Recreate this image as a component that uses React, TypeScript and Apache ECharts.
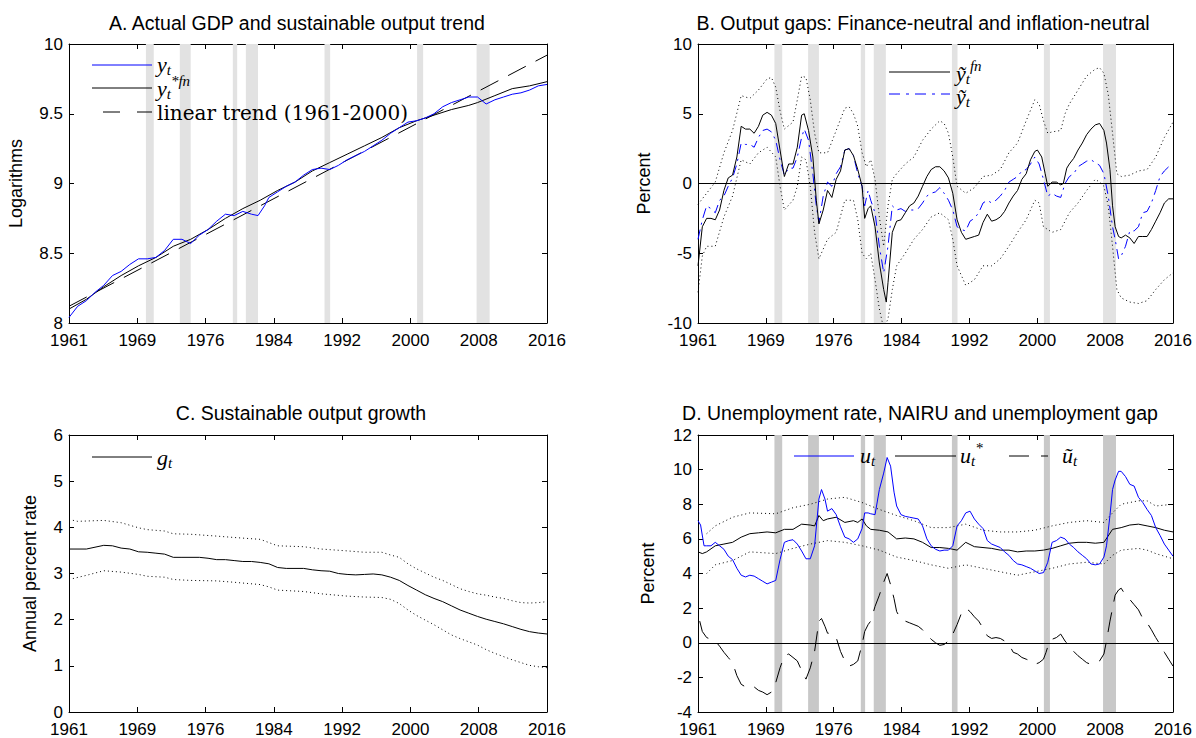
import React, { useEffect, useRef } from "react";
import * as echarts from "echarts";

// ---------- Axis tick labels and recession bands ----------
const xTickLabels = ["1961", "1969", "1976", "1984", "1992", "2000", "2008", "2016"];
const recessions: [number, number][] = [
  [1969.85, 1970.75], [1973.75, 1975.0], [1979.85, 1980.35], [1981.35, 1982.75],
  [1990.4, 1991.05], [2001.05, 2001.75], [2007.9, 2009.4],
];

// ---------- Panel A ----------
const gdpActual: [number, number][] = [
  [1961, 8.04], [1962, 8.12], [1963, 8.16], [1964, 8.22], [1965, 8.27], [1966, 8.34], [1967, 8.37],
  [1968, 8.42], [1969, 8.46], [1970, 8.46], [1971, 8.47], [1972, 8.52], [1973, 8.60], [1974, 8.60],
  [1975, 8.57], [1976, 8.63], [1977, 8.67], [1978, 8.73], [1979, 8.78], [1980, 8.77], [1981, 8.80],
  [1982, 8.78], [1982.75, 8.77], [1983.5, 8.84], [1984, 8.90], [1985, 8.94], [1986, 8.98], [1987, 9.01],
  [1988, 9.06], [1989, 9.10], [1990, 9.11], [1991, 9.10], [1992, 9.13], [1993, 9.17], [1994, 9.20],
  [1995, 9.23], [1996, 9.27], [1997, 9.31], [1998, 9.36], [1999, 9.40], [2000, 9.44], [2001, 9.45],
  [2002, 9.47], [2003, 9.50], [2004, 9.55], [2005, 9.58], [2006, 9.60], [2007, 9.62], [2008, 9.62],
  [2009, 9.57], [2010, 9.60], [2011, 9.62], [2012, 9.64], [2013, 9.65], [2014, 9.67], [2015, 9.70],
  [2016, 9.71],
];
const gdpTrendFn: [number, number][] = [
  [1961, 8.10], [1963, 8.17], [1965, 8.26], [1967, 8.34], [1969, 8.41], [1971, 8.47], [1973, 8.55],
  [1975, 8.60], [1977, 8.67], [1979, 8.75], [1981, 8.82], [1983, 8.88], [1985, 8.95], [1987, 9.01],
  [1989, 9.09], [1991, 9.15], [1993, 9.21], [1995, 9.27], [1997, 9.33], [1999, 9.40], [2001, 9.45],
  [2003, 9.49], [2005, 9.53], [2007, 9.56], [2008, 9.58], [2010, 9.63], [2012, 9.68], [2014, 9.70],
  [2016, 9.73],
];
const linearTrend: [number, number][] = [[1961, 8.12], [2016, 9.92]];

// ---------- Panel B ----------
const gapFn: [number, number][] = [
  [1961, -5.9], [1961.5, -3.1], [1962, -2.5], [1962.5, -2.5], [1963, -2.6], [1963.5, -1.9], [1964, -0.5],
  [1964.5, 0.4], [1965, 0.6], [1965.5, 1.9], [1966, 4.1], [1966.5, 3.9], [1967, 3.9], [1967.5, 3.6],
  [1968, 4.1], [1968.5, 4.9], [1969, 5.1], [1969.5, 4.9], [1970, 4.3], [1970.5, 2.4], [1971, 0.5],
  [1971.5, 1.4], [1972, 1.4], [1972.5, 2.6], [1973, 4.9], [1973.3, 5.0], [1973.8, 3.8], [1974.3, 1.9],
  [1974.7, -1.2], [1975, -2.9], [1975.5, -1.9], [1976, -0.5], [1976.5, -1.0], [1977, 0.3], [1977.5, 0.9],
  [1978, 2.4], [1978.5, 2.5], [1979, 2.0], [1979.5, 1.0], [1980, -0.2], [1980.3, -2.5], [1980.7, -1.8],
  [1981, -1.6], [1981.5, -3.1], [1982, -5.7], [1982.5, -7.6], [1982.8, -8.5], [1983, -7.1], [1983.5, -3.5],
  [1984, -2.7], [1984.5, -2.6], [1985, -2.1], [1985.5, -1.6], [1986, -1.4], [1986.5, -0.9], [1987, -0.2],
  [1987.5, 0.5], [1988, 1.0], [1988.5, 1.2], [1989, 1.2], [1989.5, 0.9], [1990, 0.4], [1990.5, -0.7],
  [1991, -2.6], [1991.5, -3.5], [1992, -4.0], [1992.5, -3.9], [1993, -3.8], [1993.5, -3.7], [1994, -2.8],
  [1994.5, -2.2], [1995, -2.7], [1995.5, -2.6], [1996, -2.4], [1996.5, -2.0], [1997, -1.4], [1997.5, -0.9],
  [1998, -0.5], [1998.5, 0.3], [1999, 0.7], [1999.5, 1.7], [2000, 2.3], [2000.3, 2.4], [2000.8, 1.9],
  [2001.2, 0.7], [2001.5, -0.2], [2002, 0.1], [2002.5, 0.1], [2003, -0.1], [2003.3, 0.0], [2003.7, 1.1],
  [2004, 1.4], [2004.5, 1.8], [2005, 2.4], [2005.5, 2.9], [2006, 3.5], [2006.5, 3.9], [2007, 4.2],
  [2007.5, 4.3], [2008, 3.8], [2008.3, 2.9], [2008.7, 1.0], [2009, -1.6], [2009.3, -3.1], [2009.7, -3.8],
  [2010, -3.9], [2010.5, -3.7], [2011, -3.9], [2011.5, -4.3], [2012, -3.8], [2012.5, -3.8], [2013, -3.8],
  [2013.5, -3.3], [2014, -2.7], [2014.5, -2.1], [2015, -1.4], [2015.5, -1.1], [2016, -1.1],
];
const gapInfl: [number, number][] = [
  [1961, -4.0], [1961.5, -2.6], [1962, -1.6], [1962.5, -1.8], [1963, -2.1], [1963.5, -1.2], [1964, -0.9],
  [1964.5, -0.2], [1965, 0.4], [1965.5, 1.4], [1966, 2.9], [1966.5, 2.8], [1967, 2.8], [1967.5, 2.6],
  [1968, 3.3], [1968.5, 3.8], [1969, 3.9], [1969.5, 3.7], [1970, 3.1], [1970.5, 1.7], [1971, 0.6],
  [1971.5, 1.1], [1972, 1.1], [1972.5, 1.9], [1973, 3.3], [1973.3, 3.9], [1973.8, 3.1], [1974.3, 0.7],
  [1974.7, -1.6], [1975, -2.8], [1975.5, -0.9], [1976, 0.1], [1976.5, -0.2], [1977, 0.7], [1977.5, 1.2],
  [1978, 2.4], [1978.5, 2.5], [1979, 2.0], [1979.5, 0.7], [1980, -0.2], [1980.3, -1.6], [1980.7, -0.5],
  [1981, -1.2], [1981.5, -2.1], [1982, -4.5], [1982.5, -6.4], [1983, -4.5], [1983.5, -1.6], [1984, -1.9],
  [1984.5, -1.8], [1985, -2.0], [1985.5, -1.9], [1986, -1.9], [1986.5, -1.8], [1987, -1.4], [1987.5, -0.9],
  [1988, -0.7], [1988.5, -0.6], [1989, -0.3], [1989.5, -0.7], [1990, -1.2], [1990.5, -1.9], [1991, -3.1],
  [1991.5, -3.3], [1992, -3.4], [1992.5, -2.7], [1993, -2.5], [1993.5, -2.1], [1994, -1.4], [1994.5, -1.2],
  [1995, -1.4], [1995.5, -1.2], [1996, -0.9], [1996.5, -0.5], [1997, 0.1], [1997.5, 0.3], [1998, 0.5],
  [1998.5, 0.9], [1999, 1.0], [1999.5, 1.4], [2000, 1.9], [2000.5, 1.4], [2001, 0.3], [2001.5, -0.9],
  [2002, -0.7], [2002.5, -0.9], [2003, -1.0], [2003.5, 0.0], [2004, 0.5], [2004.5, 0.7], [2005, 1.2],
  [2005.5, 1.4], [2006, 1.6], [2006.5, 1.7], [2007, 1.5], [2007.5, 1.3], [2008, 0.7], [2008.5, -0.9],
  [2009, -3.1], [2009.3, -4.0], [2009.7, -5.4], [2010, -5.2], [2010.5, -4.5], [2011, -3.4], [2011.5, -3.4],
  [2012, -3.1], [2012.5, -2.1], [2013, -2.0], [2013.5, -1.4], [2014, -0.5], [2014.5, 0.5], [2015, 0.9],
  [2015.5, 1.2], [2016, 1.3],
];
const gapFnUpper: [number, number][] = [
  [1961, -1.5], [1962, -0.7], [1963, 0.1], [1964, 2.2], [1965, 3.8], [1966, 6.3], [1967, 6.1], [1968, 6.7],
  [1969, 7.5], [1969.5, 7.6], [1970, 6.9], [1970.5, 5.2], [1971, 3.9], [1972, 4.4], [1972.5, 6.0],
  [1973, 7.7], [1973.5, 7.6], [1974, 6.0], [1974.5, 3.6], [1975, 2.2], [1976, 2.2], [1977, 3.8],
  [1978, 5.4], [1978.5, 5.5], [1979, 5.0], [1979.5, 4.1], [1980, 2.2], [1980.5, 1.2], [1981, 1.7],
  [1981.5, 0.3], [1982, -2.4], [1982.5, -4.5], [1983, -1.6], [1983.5, 0.3], [1984, 0.7], [1985, 1.4],
  [1986, 1.9], [1987, 3.1], [1988, 3.9], [1989, 4.5], [1989.5, 4.3], [1990, 3.6], [1990.5, 1.9],
  [1991, -0.2], [1992, -0.7], [1993, -0.3], [1994, 0.5], [1995, 0.6], [1996, 1.0], [1997, 2.2],
  [1998, 2.9], [1999, 4.5], [2000, 6.0], [2000.5, 5.7], [2001, 4.5], [2001.5, 3.6], [2002, 3.7],
  [2003, 3.8], [2003.5, 5.0], [2004, 5.7], [2005, 6.7], [2006, 7.7], [2007, 8.2], [2007.5, 8.3],
  [2008, 7.9], [2008.5, 6.4], [2009, 3.6], [2009.5, 0.7], [2010, 0.5], [2011, 0.6], [2012, 0.9],
  [2013, 1.0], [2014, 1.9], [2015, 3.3], [2016, 4.4],
];
const gapFnLower: [number, number][] = [
  [1961, -7.8], [1961.5, -5.2], [1962, -4.5], [1963, -4.5], [1964, -2.4], [1965, -0.9], [1966, 1.7],
  [1967, 1.4], [1968, 2.2], [1969, 2.6], [1970, 1.9], [1970.5, -0.2], [1971, -1.9], [1972, -1.2],
  [1972.5, -0.2], [1973, 1.9], [1973.5, 1.7], [1974, -0.2], [1974.5, -3.5], [1975, -5.4], [1976, -4.0],
  [1977, -3.5], [1978, -1.2], [1979, -1.2], [1979.5, -2.6], [1980, -5.0], [1980.5, -5.4], [1981, -5.0],
  [1981.5, -6.9], [1982, -9.0], [1982.5, -10.4], [1983, -9.7], [1983.5, -7.6], [1984, -5.9], [1985, -5.0],
  [1986, -4.0], [1987, -3.3], [1988, -2.4], [1989, -2.1], [1990, -2.6], [1990.5, -4.0], [1991, -5.9],
  [1992, -7.3], [1993, -6.9], [1994, -5.9], [1995, -5.9], [1996, -5.4], [1997, -4.5], [1998, -3.5],
  [1999, -2.6], [2000, -1.2], [2000.5, -1.4], [2001, -3.1], [2002, -3.5], [2003, -3.3], [2004, -2.1],
  [2005, -1.4], [2006, -0.5], [2007, 0.3], [2007.5, 0.1], [2008, -0.2], [2008.5, -1.6], [2009, -4.5],
  [2009.5, -7.6], [2010, -8.2], [2011, -8.5], [2012, -8.6], [2013, -8.4], [2014, -7.6], [2015, -6.9],
  [2016, -6.4],
];

// ---------- Panel C ----------
const growth: [number, number][] = [
  [1961, 3.53], [1963, 3.53], [1965, 3.61], [1966, 3.60], [1967, 3.55], [1968, 3.53], [1969, 3.47],
  [1970, 3.46], [1971, 3.44], [1972, 3.42], [1973, 3.35], [1974, 3.35], [1976, 3.35], [1977, 3.33],
  [1978, 3.30], [1979, 3.30], [1980, 3.28], [1981, 3.26], [1982, 3.26], [1983, 3.24], [1984, 3.21],
  [1985, 3.13], [1986, 3.11], [1988, 3.11], [1989, 3.08], [1990, 3.06], [1991, 3.05], [1992, 3.00],
  [1993, 2.98], [1994, 2.97], [1995, 2.98], [1996, 2.99], [1997, 2.97], [1998, 2.92], [1999, 2.85],
  [2000, 2.74], [2001, 2.64], [2002, 2.54], [2003, 2.46], [2004, 2.39], [2005, 2.30], [2006, 2.21],
  [2007, 2.14], [2008, 2.07], [2009, 2.01], [2010, 1.96], [2011, 1.91], [2012, 1.85], [2013, 1.79],
  [2014, 1.74], [2015, 1.71], [2016, 1.69],
];
const growthUpper: [number, number][] = [
  [1961, 4.17], [1962, 4.13], [1965, 4.15], [1967, 4.10], [1969, 3.99], [1970, 3.95], [1972, 3.92],
  [1973, 3.86], [1975, 3.85], [1978, 3.81], [1980, 3.78], [1983, 3.74], [1984, 3.67], [1985, 3.60],
  [1988, 3.58], [1990, 3.53], [1993, 3.49], [1995, 3.46], [1997, 3.46], [1998, 3.40], [1999, 3.35],
  [2000, 3.21], [2001, 3.10], [2002, 3.01], [2003, 2.92], [2004, 2.85], [2005, 2.76], [2006, 2.67],
  [2007, 2.61], [2008, 2.56], [2009, 2.53], [2010, 2.49], [2011, 2.46], [2012, 2.41], [2013, 2.37],
  [2014, 2.36], [2015, 2.37], [2016, 2.39],
];
const growthLower: [number, number][] = [
  [1961, 2.87], [1963, 2.96], [1965, 3.06], [1967, 3.03], [1969, 2.98], [1970, 2.94], [1972, 2.92],
  [1973, 2.87], [1975, 2.85], [1978, 2.84], [1980, 2.81], [1983, 2.76], [1984, 2.71], [1985, 2.64],
  [1988, 2.61], [1990, 2.56], [1993, 2.51], [1995, 2.49], [1997, 2.48], [1998, 2.44], [1999, 2.35],
  [2000, 2.21], [2001, 2.09], [2002, 1.99], [2003, 1.89], [2004, 1.78], [2005, 1.67], [2006, 1.59],
  [2007, 1.52], [2008, 1.45], [2009, 1.35], [2010, 1.27], [2011, 1.20], [2012, 1.13], [2013, 1.07],
  [2014, 1.01], [2015, 0.98], [2016, 0.96],
];

// ---------- Panel D ----------
const unemployment: [number, number][] = [
  [1961, 7.05], [1961.3, 6.8], [1961.7, 5.6], [1962, 5.6], [1962.5, 5.6], [1963, 5.8], [1963.5, 5.6],
  [1964, 5.4], [1964.5, 5.0], [1965, 4.8], [1965.5, 4.3], [1966, 3.9], [1966.5, 3.8], [1967, 3.9],
  [1967.5, 3.85], [1968, 3.7], [1968.5, 3.55], [1969, 3.4], [1969.5, 3.5], [1970, 3.6], [1970.5, 4.8],
  [1971, 5.8], [1971.5, 5.9], [1972, 5.95], [1972.5, 5.7], [1973, 5.3], [1973.5, 4.85], [1974, 4.85],
  [1974.5, 5.6], [1975, 8.3], [1975.3, 8.85], [1975.7, 8.3], [1976, 7.6], [1976.5, 7.75], [1977, 7.4],
  [1977.5, 6.7], [1978, 6.1], [1978.5, 6.0], [1979, 5.8], [1979.5, 6.0], [1980, 6.6], [1980.3, 7.5],
  [1980.7, 7.5], [1981, 7.45], [1981.5, 7.4], [1982, 8.85], [1982.5, 9.8], [1982.9, 10.7], [1983.3, 10.2],
  [1983.7, 8.7], [1984, 7.9], [1984.5, 7.4], [1985, 7.3], [1985.5, 7.25], [1986, 7.2], [1986.5, 7.15],
  [1987, 6.75], [1987.5, 6.0], [1988, 5.6], [1988.5, 5.4], [1989, 5.3], [1989.5, 5.35], [1990, 5.35],
  [1990.5, 5.6], [1991, 6.75], [1991.5, 7.05], [1992, 7.5], [1992.5, 7.6], [1993, 7.15], [1993.5, 6.85],
  [1994, 6.6], [1994.5, 5.9], [1995, 5.7], [1995.5, 5.6], [1996, 5.5], [1996.5, 5.25], [1997, 5.05],
  [1997.5, 4.75], [1998, 4.55], [1998.5, 4.5], [1999, 4.4], [1999.5, 4.3], [2000, 4.15], [2000.5, 4.0],
  [2001, 4.05], [2001.5, 4.65], [2002, 5.8], [2002.5, 5.9], [2003, 6.1], [2003.5, 6.0], [2004, 5.7],
  [2004.5, 5.5], [2005, 5.25], [2005.5, 5.05], [2006, 4.85], [2006.5, 4.55], [2007, 4.5], [2007.5, 4.55],
  [2008, 4.95], [2008.3, 5.6], [2008.7, 7.35], [2009, 8.85], [2009.3, 9.4], [2009.7, 9.9], [2010, 9.9],
  [2010.5, 9.6], [2011, 9.15], [2011.5, 9.05], [2012, 8.4], [2012.5, 8.1], [2013, 7.7], [2013.5, 7.35],
  [2014, 6.65], [2014.5, 6.2], [2015, 5.7], [2015.5, 5.35], [2016, 5.0],
];
const nairu: [number, number][] = [
  [1961, 5.25], [1961.5, 5.15], [1962, 5.25], [1963, 5.6], [1964, 5.7], [1965, 5.8], [1966, 6.1],
  [1967, 6.3], [1968, 6.35], [1969, 6.4], [1970, 6.35], [1971, 6.55], [1972, 6.55], [1973, 6.85],
  [1974, 6.8], [1974.5, 6.75], [1975, 7.35], [1975.5, 7.05], [1976, 7.15], [1977, 7.25], [1978, 6.95],
  [1979, 7.05], [1979.5, 6.95], [1980, 7.15], [1980.5, 6.75], [1981, 6.55], [1982, 6.5], [1983, 6.4],
  [1984, 6.0], [1985, 6.05], [1986, 6.0], [1987, 5.8], [1988, 5.5], [1989, 5.5], [1990, 5.45],
  [1991, 5.35], [1992, 5.8], [1993, 5.55], [1994, 5.5], [1995, 5.45], [1996, 5.35], [1997, 5.35],
  [1998, 5.25], [1999, 5.3], [2000, 5.3], [2001, 5.35], [2002, 5.45], [2003, 5.6], [2004, 5.75],
  [2005, 5.8], [2006, 5.8], [2007, 5.75], [2008, 5.8], [2009, 6.55], [2010, 6.65], [2011, 6.8],
  [2012, 6.85], [2013, 6.75], [2014, 6.65], [2015, 6.5], [2016, 6.4],
];
const nairuUpper: [number, number][] = [
  [1962, 6.3], [1963, 6.75], [1965, 7.25], [1967, 7.5], [1970, 7.45], [1972, 7.8], [1974, 8.0],
  [1976, 8.3], [1978, 8.4], [1980, 8.1], [1982, 7.7], [1984, 7.35], [1986, 7.05], [1988, 6.65],
  [1990, 6.65], [1992, 6.85], [1994, 6.5], [1996, 6.4], [1998, 6.4], [2000, 6.5], [2002, 6.75],
  [2004, 6.95], [2006, 7.05], [2008, 6.95], [2009, 7.5], [2010, 8.0], [2012, 8.2], [2013, 8.2],
  [2014, 7.9], [2016, 8.0],
];
const nairuLower: [number, number][] = [
  [1962, 4.0], [1963, 4.5], [1965, 4.75], [1967, 5.25], [1970, 5.15], [1972, 5.45], [1974, 5.7],
  [1976, 5.9], [1978, 5.8], [1980, 5.6], [1982, 5.35], [1984, 4.95], [1986, 4.75], [1988, 4.5],
  [1990, 4.3], [1992, 4.5], [1994, 4.3], [1996, 4.1], [1998, 3.9], [2000, 4.1], [2002, 4.3],
  [2004, 4.55], [2006, 4.65], [2008, 4.55], [2009, 5.05], [2010, 5.35], [2012, 5.45], [2013, 5.35],
  [2014, 5.15], [2016, 4.85],
];
const unemploymentGap: [number, number][] = [
  [1961.2, 1.25], [1961.5, 0.65], [1962, 0.3], [1962.5, 0.2], [1963, 0.1], [1963.5, -0.2], [1964, -0.55],
  [1964.5, -0.85], [1965, -1.15], [1965.5, -1.9], [1966, -2.4], [1966.5, -2.55], [1967, -2.65],
  [1967.5, -2.55], [1968, -2.75], [1968.5, -2.85], [1969, -3.0], [1969.5, -2.85], [1970, -2.3],
  [1970.5, -1.45], [1971, -0.75], [1971.5, -0.65], [1972, -0.85], [1972.5, -1.05], [1973, -1.6],
  [1973.5, -2.1], [1974, -1.45], [1974.5, -0.5], [1975, 1.25], [1975.3, 1.4], [1975.7, 0.95], [1976, 0.55],
  [1976.5, 0.55], [1977, 0.3], [1977.5, -0.5], [1978, -1.05], [1978.5, -1.35], [1979, -1.25],
  [1979.5, -1.05], [1980, -0.1], [1980.3, 0.65], [1980.7, 1.05], [1981, 1.25], [1981.5, 2.1], [1982, 2.75],
  [1982.5, 3.5], [1982.9, 4.0], [1983.3, 3.35], [1983.7, 2.55], [1984, 1.8], [1984.5, 1.35], [1985, 1.25],
  [1985.5, 1.15], [1986, 1.05], [1986.5, 0.95], [1987, 0.75], [1987.5, 0.5], [1988, 0.2], [1988.5, 0.0],
  [1989, -0.15], [1989.5, -0.1], [1990, 0.1], [1990.5, 0.5], [1991, 1.05], [1991.5, 1.7], [1992, 2.0],
  [1992.5, 1.8], [1993, 1.5], [1993.5, 1.25], [1994, 0.85], [1994.5, 0.4], [1995, 0.25], [1995.5, 0.3],
  [1996, 0.25], [1996.5, 0.1], [1997, -0.1], [1997.5, -0.55], [1998, -0.65], [1998.5, -0.85],
  [1999, -0.95], [1999.5, -1.05], [2000, -1.25], [2000.5, -1.15], [2001, -0.95], [2001.3, -0.55],
  [2001.7, 0.1], [2002, 0.2], [2002.5, 0.3], [2003, 0.5], [2003.5, 0.1], [2004, -0.2], [2004.5, -0.5],
  [2005, -0.75], [2005.5, -0.95], [2006, -1.15], [2006.5, -1.25], [2007, -1.2], [2007.5, -1.05],
  [2008, -0.65], [2008.3, 0.1], [2008.7, 1.25], [2009, 2.0], [2009.3, 2.75], [2009.7, 3.05], [2010, 3.15],
  [2010.5, 2.75], [2011, 2.5], [2011.5, 2.2], [2012, 1.9], [2012.5, 1.4], [2013, 1.15], [2013.5, 0.75],
  [2014, 0.3], [2014.5, -0.1], [2015, -0.55], [2015.5, -0.95], [2016, -1.35],
];

// ---------- Styling / layout ----------
const SANS = '"Liberation Sans", Arial, Helvetica, sans-serif';
const MATH = '"Liberation Serif", "Times New Roman", serif';
const ROMAN = '"DejaVu Serif", serif';
const BLUE = "#0000ff";
const BLACK = "#000000";
const DOT: number[] = [1, 3];
const DASH: number[] = [20, 11];
const DASHDOT: number[] = [10, 5, 2, 5];

const grids = [
  { left: 69, top: 44, width: 478, height: 279 },
  { left: 698, top: 44, width: 475, height: 279 },
  { left: 69, top: 435, width: 478, height: 279 },
  { left: 698, top: 435, width: 475, height: 279 },
];
const tickPos = xTickLabels.map((_, i) => 1961 + (i * 55) / 7);

function xAxesFor(gi: number) {
  const common: any = {
    type: "value", gridIndex: gi, min: 1961, max: 2016,
    splitLine: { show: false },
    axisLine: { show: true, onZero: false, lineStyle: { color: BLACK, width: 1 } },
    axisTick: { show: true, inside: true, length: 5, customValues: tickPos, lineStyle: { color: BLACK } },
  };
  return [
    {
      ...common, position: "bottom",
      axisLabel: {
        show: true, customValues: tickPos, color: BLACK, fontSize: 17, fontFamily: SANS, margin: 9,
        formatter: (v: number) => xTickLabels[Math.round(((v - 1961) * 7) / 55)] ?? "",
      },
    },
    { ...common, position: "top", axisLabel: { show: false } },
  ];
}
function yAxesFor(gi: number, min: number, max: number, interval: number, name: string, nameGap: number) {
  const common: any = {
    type: "value", gridIndex: gi, min, max, interval,
    splitLine: { show: false },
    axisLine: { show: true, onZero: false, lineStyle: { color: BLACK, width: 1 } },
    axisTick: { show: true, inside: true, length: 5, lineStyle: { color: BLACK } },
  };
  return [
    {
      ...common, position: "left", name, nameLocation: "middle", nameGap, nameRotate: 90,
      nameTextStyle: { color: BLACK, fontSize: 18, fontFamily: SANS },
      axisLabel: { color: BLACK, fontSize: 17, fontFamily: SANS, margin: 6 },
    },
    { ...common, position: "right", axisLabel: { show: false } },
  ];
}
function line(gi: number, data: [number, number][], color: string, type: any, z = 5) {
  return {
    type: "line", xAxisIndex: gi * 2, yAxisIndex: gi * 2, data, showSymbol: false, symbol: "none",
    silent: true, z, lineStyle: { color, width: 1, type }, clip: true,
  };
}
function backdrop(gi: number, bandColor: string, zero: boolean) {
  const s: any = {
    type: "line", xAxisIndex: gi * 2, yAxisIndex: gi * 2, data: [], silent: true, z: 1,
    markArea: {
      silent: true, z: 1, itemStyle: { color: bandColor }, label: { show: false },
      data: recessions.map(([a, b]) => [{ xAxis: a }, { xAxis: b }]),
    },
  };
  if (zero) {
    s.markLine = {
      silent: true, symbol: "none", label: { show: false },
      lineStyle: { color: BLACK, width: 1, type: "solid" }, data: [{ yAxis: 0 }],
    };
  }
  return s;
}

// Math-style legend label as ONE rich text: b = base letter, s = subscript, p = superscript
const mathRich = {
  b: { fontSize: 22, fontStyle: "italic", fontFamily: MATH, fill: BLACK, lineHeight: 16 },
  s: { fontSize: 15, fontStyle: "italic", fontFamily: MATH, fill: BLACK, lineHeight: 10, padding: [12, 0, 0, 0] },
  p: { fontSize: 15, fontStyle: "italic", fontFamily: MATH, fill: BLACK, lineHeight: 10, padding: [0, 0, 14, 0] },
};
function mathLabel(x: number, y: number, parts: [string, "b" | "s" | "p"][]) {
  return {
    type: "text", x, y, silent: true, z: 100,
    style: {
      text: parts.map(([t, k]) => `{${k}|${t}}`).join(""),
      rich: mathRich, align: "left", verticalAlign: "middle", fill: BLACK,
    },
  };
}
function plainText(x: number, y: number, text: string, size: number, family: string) {
  return {
    type: "text", x, y, silent: true, z: 100,
    style: {
      text, fontSize: size, fontFamily: family, fill: BLACK, align: "left", verticalAlign: "middle",
      lineHeight: 18,
    },
  };
}
function seg(x1: number, y1: number, x2: number, y2: number, color = BLACK, dash?: number[]) {
  return {
    type: "line", silent: true, z: 100, shape: { x1, y1, x2, y2 },
    style: { stroke: color, lineWidth: 1, lineDash: dash },
  };
}
function title(x: number, y: number, text: string) {
  return {
    type: "text", x, y, silent: true, z: 100,
    style: { text, fontSize: 19.5, fontFamily: SANS, fill: BLACK, align: "center", verticalAlign: "middle" },
  };
}

function buildOption() {
  const graphics: any[] = [
    title(297, 23, "A. Actual GDP and sustainable output trend"),
    title(923, 23, "B. Output gaps: Finance-neutral and inflation-neutral"),
    title(301, 413, "C. Sustainable output growth"),
    title(920, 413, "D. Unemployment rate, NAIRU and unemployment gap"),
    // Legend A
    seg(92, 65, 152, 65, BLUE), mathLabel(157, 64, [["y", "b"], ["t", "s"]]),
    seg(92, 88, 152, 88), mathLabel(157, 88, [["y", "b"], ["t", "s"], ["*fn", "p"]]),
    seg(103, 112, 120, 112), seg(137, 112, 152, 112),
    plainText(157, 113, "linear trend (1961-2000)", 20, ROMAN),
    // Legend B
    seg(889, 72, 950, 72), mathLabel(956, 73, [["ỹ", "b"], ["t", "s"], ["fn", "p"]]),
    seg(889, 94, 950, 94, BLUE, [11, 6, 3, 6]), mathLabel(956, 96, [["ỹ", "b"], ["t", "s"]]),
    // Legend C
    seg(92, 457, 152, 457), mathLabel(157, 457, [["g", "b"], ["t", "s"]]),
    // Legend D
    seg(794, 456, 854, 456, BLUE), mathLabel(860, 455, [["u", "b"], ["t", "s"]]),
    seg(895, 456, 956, 456), mathLabel(960, 455, [["u", "b"], ["t", "s"], ["*", "p"]]),
    seg(1009, 456, 1029, 456), seg(1041, 456, 1048, 456), mathLabel(1062, 455, [["ũ", "b"], ["t", "s"]]),
  ];

  return {
    animation: false,
    backgroundColor: "#ffffff",
    grid: grids.map((g) => ({ ...g, containLabel: false, show: false })),
    xAxis: [0, 1, 2, 3].flatMap((gi) => xAxesFor(gi)),
    yAxis: [
      ...yAxesFor(0, 8, 10, 0.5, "Logarithms", 44),
      ...yAxesFor(1, -10, 10, 5, "Percent", 45),
      ...yAxesFor(2, 0, 6, 1, "Annual percent rate", 30),
      ...yAxesFor(3, -4, 12, 2, "Percent", 41),
    ],
    series: [
      backdrop(0, "#e2e2e2", false),
      line(0, linearTrend, BLACK, DASH),
      line(0, gdpTrendFn, BLACK, "solid"),
      line(0, gdpActual, BLUE, "solid"),

      backdrop(1, "#e2e2e2", true),
      line(1, gapFnUpper, BLACK, DOT),
      line(1, gapFnLower, BLACK, DOT),
      line(1, gapInfl, BLUE, DASHDOT),
      line(1, gapFn, BLACK, "solid"),

      line(2, growthUpper, BLACK, DOT),
      line(2, growthLower, BLACK, DOT),
      line(2, growth, BLACK, "solid"),

      backdrop(3, "#c8c8c8", true),
      line(3, nairuUpper, BLACK, DOT),
      line(3, nairuLower, BLACK, DOT),
      line(3, unemploymentGap, BLACK, DASH),
      line(3, nairu, BLACK, "solid"),
      line(3, unemployment, BLUE, "solid"),
    ],
    graphic: graphics,
  };
}

export default function App() {
  const ref = useRef<HTMLDivElement>(null);
  useEffect(() => {
    if (!ref.current) return;
    const chart = echarts.init(ref.current, null, { renderer: "svg" });
    chart.setOption(buildOption() as any);
    return () => chart.dispose();
  }, []);
  return (
    <div
      ref={ref}
      style={{ position: "absolute", left: 0, top: 0, width: 1196, height: 738, background: "#ffffff" }}
    />
  );
}
